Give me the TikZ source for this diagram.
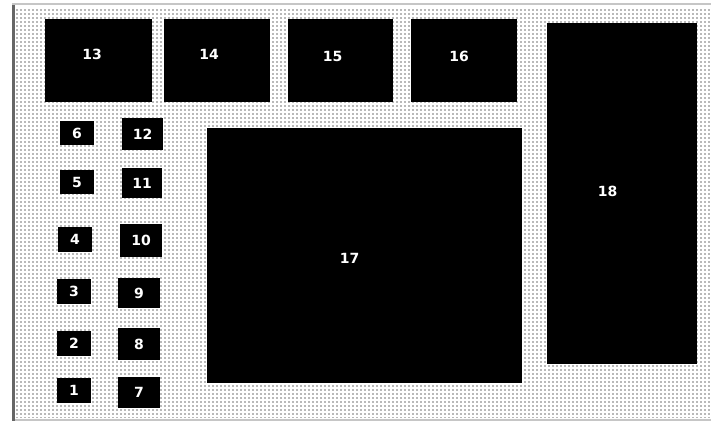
\documentclass[tikz,border=0pt]{standalone}
\usepackage{fontspec}
\setmainfont{DejaVu Sans}
\usetikzlibrary{patterns}
\pgfdeclarepatternformonly{griddots}{\pgfqpoint{-0.5pt}{-0.5pt}}{\pgfqpoint{4.5pt}{4.5pt}}{\pgfqpoint{4pt}{4pt}}{%
  \pgfpathrectangle{\pgfqpoint{0pt}{0pt}}{\pgfqpoint{1.6pt}{1.6pt}}\pgfusepath{fill}}
\begin{document}
\begin{tikzpicture}[x=1pt,y=-1pt,
  box/.style={fill=black,draw=none,inner sep=0pt,text=white,
    font=\bfseries\fontsize{14}{14}\selectfont},
  frameline/.style={draw=gray!45,line width=2pt},
  sidebar/.style={draw=gray!80!black,line width=3pt}]
\useasboundingbox (0,0) rectangle (711,423);
\fill[white] (0,0) rectangle (711,423);
% dotted background
\fill[pattern=griddots,pattern color=gray!55] (16,7) rectangle (711,417);
% frame
\draw[frameline] (12,4) -- (711,4);
\draw[frameline] (12,419.5) -- (711,419.5);
\draw[sidebar] (13.5,5) -- (13.5,421);
% large boxes
\node[box,minimum width=107,minimum height=83] (b13) at (98.5,60.5) {};
\node[box,minimum width=106,minimum height=83] (b14) at (217,60.5) {};
\node[box,minimum width=105,minimum height=83] (b15) at (340.5,60.5) {};
\node[box,minimum width=106,minimum height=83] (b16) at (464,60.5) {};
\node[box,minimum width=150,minimum height=341] (b18) at (622,193.5) {};
\node[box,minimum width=315,minimum height=255] (b17) at (364.5,255.5) {};
\node[box] at (92,54) {13};
\node[box] at (209,54) {14};
\node[box] at (332.5,56.5) {15};
\node[box] at (459,56.5) {16};
\node[box] at (607.5,191) {18};
\node[box] at (349.5,258.5) {17};
% small boxes left column
\node[box,minimum width=34,minimum height=24] (b6) at (77,133) {6};
\node[box,minimum width=34,minimum height=24] (b5) at (77,182) {5};
\node[box,minimum width=34,minimum height=25] (b4) at (75,239.5) {4};
\node[box,minimum width=34,minimum height=25] (b3) at (74,291.5) {3};
\node[box,minimum width=34,minimum height=25] (b2) at (74,343.5) {2};
\node[box,minimum width=34,minimum height=25] (b1) at (74,390.5) {1};
% small boxes right column
\node[box,minimum width=41,minimum height=32] (b12) at (142.5,134) {12};
\node[box,minimum width=40,minimum height=30] (b11) at (142,183) {11};
\node[box,minimum width=42,minimum height=33] (b10) at (141,240.5) {10};
\node[box,minimum width=42,minimum height=30] (b9) at (139,293) {9};
\node[box,minimum width=42,minimum height=32] (b8) at (139,344) {8};
\node[box,minimum width=42,minimum height=31] (b7) at (139,392.5) {7};
\end{tikzpicture}
\end{document}
